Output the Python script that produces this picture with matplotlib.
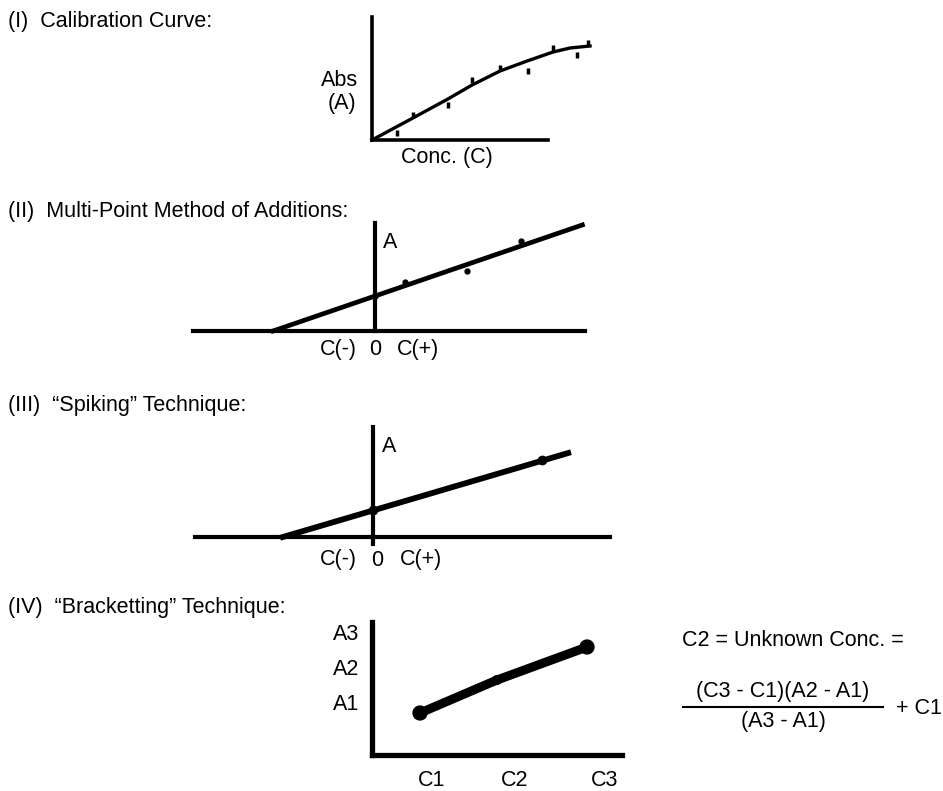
import matplotlib
matplotlib.use('Agg')
from matplotlib import pyplot
from matplotlib.lines import Line2D

W, H = 943, 791
FONT = 'Liberation Sans'
FS = 15.5

# (I) calibration curve: conc vs abs
cal_curve_c = [0.0, 1.86, 3.45, 4.55, 5.82, 7.05, 8.23, 9.0, 9.91]
cal_curve_a = [0.0, 0.22, 0.41, 0.55, 0.69, 0.79, 0.88, 0.92, 0.94]
cal_pts_c = [1.14, 1.86, 3.45, 4.55, 5.82, 7.09, 8.23, 9.32, 9.82]
cal_pts_a = [0.07, 0.25, 0.35, 0.60, 0.72, 0.69, 0.92, 0.85, 0.97]

# (II) multi-point method of additions
add_fit_c = [-3.0, 6.1]
add_fit_a = [0.0, 3.12]
add_pts_c = [0.0, 0.88, 2.7, 4.3]
add_pts_a = [1.03, 1.44, 1.76, 2.65]

# (III) spiking
spk_fit_c = [-2.65, 5.74]
spk_fit_a = [0.0, 2.47]
spk_pts_c = [0.0, 4.97]
spk_pts_a = [0.78, 2.26]

# (IV) bracketting
brk_c = [4.8, 12.5, 21.5]
brk_a = [4.2, 7.5, 10.8]
brk_xticks = [6.0, 14.3, 23.3]
brk_xlabels = ['C1', 'C2', 'C3']
brk_yticks = [5.3, 8.8, 12.3]
brk_ylabels = ['A1', 'A2', 'A3']


def px(x, y):
    return x / W, 1 - y / H


def Panel(fig, x0, y0, x1, y1, ox, oy, sx, sy, xb, yb, lw):
    ax = fig.add_axes([x0 / W, 1 - y1 / H, (x1 - x0) / W, (y1 - y0) / H])
    ax.set_xlim((x0 - ox) / sx, (x1 - ox) / sx)
    ax.set_ylim((oy - y1) / sy, (oy - y0) / sy)
    ax.patch.set_visible(False)
    ax.spines['top'].set_visible(False)
    ax.spines['right'].set_visible(False)
    ax.spines['left'].set_position(('data', 0))
    ax.spines['bottom'].set_position(('data', 0))
    ax.spines['bottom'].set_bounds(*xb)
    ax.spines['left'].set_bounds(*yb)
    for s in ['left', 'bottom']:
        ax.spines[s].set_linewidth(lw)
        ax.spines[s].set_capstyle('projecting')
    ax.set_xticks([])
    ax.set_yticks([])
    return ax


def Label(fig, x, y, s, ha='left'):
    fig.text(*px(x, y), s, ha=ha, va='center', fontsize=FS, family=FONT)


fig = pyplot.figure(figsize=(W / 100, H / 100), dpi=100)

# titles
Label(fig, 8, 21, '(I)  Calibration Curve:')
Label(fig, 8, 211, '(II)  Multi-Point Method of Additions:')
Label(fig, 8, 406, '(III)  \u201cSpiking\u201d Technique:')
Label(fig, 8, 607, '(IV)  \u201cBracketting\u201d Technique:')

# (I)
ax = Panel(fig, 372, 10, 610, 140, 372, 140, 22, 100, (0, 8.0), (0, 1.23), 2.6)
ax.plot(cal_curve_c, cal_curve_a, color='black', lw=2.4, clip_on=False)
ax.plot(cal_pts_c, cal_pts_a, ls='none', marker='|', ms=5, mew=2.5,
        color='black', clip_on=False)
Label(fig, 340, 81, 'Abs', ha='center')
Label(fig, 342, 103, '(A)', ha='center')
Label(fig, 447, 157, 'Conc. (C)', ha='center')

# (II)
ax = Panel(fig, 190, 215, 600, 345, 375, 331, 34, 34,
           (-5.35, 6.18), (0, 3.18), 3.0)
ax.plot(add_fit_c, add_fit_a, color='black', lw=3.4, clip_on=False)
ax.plot(add_pts_c, add_pts_a, ls='none', marker='o', ms=3.5,
        color='black', clip_on=False)
Label(fig, 383, 243, 'A')
Label(fig, 338, 349, 'C(-)', ha='center')
Label(fig, 375, 349, '0', ha='center')
Label(fig, 418, 349, 'C(+)', ha='center')

# (III)
ax = Panel(fig, 190, 420, 615, 550, 373, 537, 34, 34,
           (-5.24, 6.97), (-0.2, 3.24), 3.0)
ax.plot(spk_fit_c, spk_fit_a, color='black', lw=4.2, clip_on=False)
ax.plot(spk_pts_c, spk_pts_a, ls='none', marker='o', ms=6,
        color='black', clip_on=False)
Label(fig, 382, 446, 'A')
Label(fig, 338, 560, 'C(-)', ha='center')
Label(fig, 377, 560, '0', ha='center')
Label(fig, 421, 560, 'C(+)', ha='center')

# (IV)
ax = Panel(fig, 372, 615, 630, 760, 372, 755, 10, 10,
           (0, 25.0), (0, 13.3), 3.8)
ax.plot(brk_c, brk_a, color='black', lw=6.5, solid_capstyle='round',
        clip_on=False)
ax.scatter(brk_c, brk_a, s=[100, 40, 100], color='black', clip_on=False,
           zorder=3)
ax.set_xticks(brk_xticks, brk_xlabels, fontsize=FS, family=FONT)
ax.set_yticks(brk_yticks, brk_ylabels, fontsize=FS, family=FONT)
ax.tick_params(length=0)
ax.tick_params(axis='x', pad=10.5)
ax.tick_params(axis='y', pad=9)

# formula
Label(fig, 682, 640, 'C2 = Unknown Conc. =')
Label(fig, 783, 691, '(C3 - C1)(A2 - A1)', ha='center')
Label(fig, 783, 721, '(A3 - A1)', ha='center')
Label(fig, 896, 708, '+ C1')
x0, y0 = px(683, 707)
x1, y1 = px(883, 707)
fig.add_artist(Line2D([x0, x1], [y0, y1], color='black', lw=1.5))

fig.savefig('out.png')
